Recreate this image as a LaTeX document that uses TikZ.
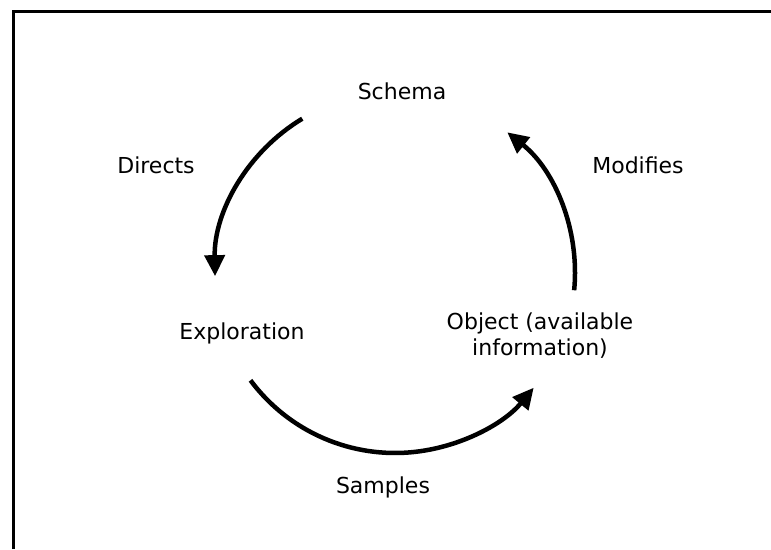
\documentclass[tikz,border=0pt]{standalone}
\usepackage{fontspec}
\setmainfont{DejaVu Sans}
\usetikzlibrary{arrows.meta,calc}
\begin{document}
\begin{tikzpicture}[x=1pt,y=1pt,
  lbl/.style={font=\fontsize{22}{26}\selectfont, inner sep=0pt, align=center},
  cyc/.style={line width=4.5pt, -{Triangle[length=21pt,width=20pt]}}]
\useasboundingbox (0,0) rectangle (771,549);
% open frame: left and top edges
\draw[line width=3pt] (13,0) -- (13,537) -- (771,537);

% centre of the cycle
\coordinate (c) at (395,276);

% stages and their relations
\node[lbl] (schema) at (402,458) {Schema};
\node[lbl] (explore) at (242,216) {Exploration};
\node[lbl] (object) at (540,213) {Object (available\\information)};
\node[lbl] (directs) at (156,384) {Directs};
\node[lbl] (modifies) at (638,384) {Modifies};
\node[lbl] (samples) at (383,62) {Samples};

% arc start points
\coordinate (dstart) at ($(c)+(121:180)$);
\coordinate (sstart) at ($(c)+(216.6:180)$);
\coordinate (mstart) at ($(c)+(-5.5:180)$);

\draw[cyc] (dstart) arc[start angle=121, end angle=181, radius=180];
\draw[cyc] (sstart) arc[start angle=216.6, end angle=320.4, radius=180];
\draw[cyc] (mstart) arc[start angle=-5.5, end angle=51.4, radius=180];
\end{tikzpicture}
\end{document}
